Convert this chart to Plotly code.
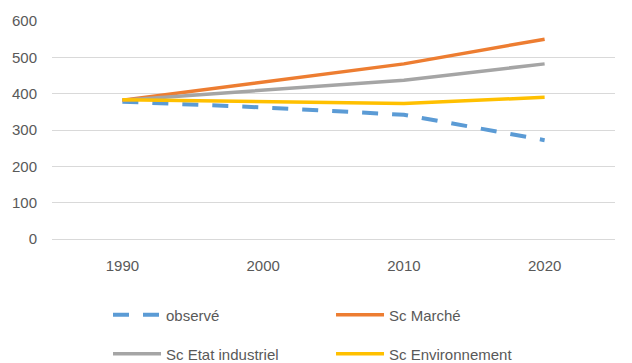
import plotly.graph_objects as go

years = ["1990", "2000", "2010", "2020"]
observe = [378, 362, 342, 272]
sc_marche = [382, 433, 482, 550]
sc_etat = [382, 410, 437, 482]
sc_env = [383, 379, 373, 390]

font_family = "Liberation Sans"
text_color = "#595959"
grid_color = "#d9d9d9"

fig = go.Figure()

fig.add_trace(go.Scatter(
    x=years, y=observe, name="observé", mode="lines",
    line=dict(color="#5B9BD5", width=4, dash="16px,14px"),
    legend="legend",
))
fig.add_trace(go.Scatter(
    x=years, y=sc_marche, name="Sc Marché", mode="lines",
    line=dict(color="#ED7D31", width=3.5),
    legend="legend",
))
fig.add_trace(go.Scatter(
    x=years, y=sc_etat, name="Sc Etat industriel", mode="lines",
    line=dict(color="#A5A5A5", width=3.5),
    legend="legend2",
))
fig.add_trace(go.Scatter(
    x=years, y=sc_env, name="Sc Environnement", mode="lines",
    line=dict(color="#FFC000", width=3.5),
    legend="legend2",
))

legend_common = dict(
    orientation="h",
    xanchor="left",
    yanchor="middle",
    x=0.0995,
    itemwidth=48,
    entrywidth=160,
    entrywidthmode="pixels",
    font=dict(family=font_family, size=15, color=text_color),
    bgcolor="rgba(0,0,0,0)",
    traceorder="normal",
)

fig.update_layout(
    width=632,
    height=363,
    margin=dict(l=52, r=17, t=21, b=124, autoexpand=False),
    paper_bgcolor="white",
    plot_bgcolor="white",
    font=dict(family=font_family, size=15, color=text_color),
    showlegend=True,
    legend=dict(legend_common, y=-0.349),
    legend2=dict(legend_common, y=-0.528),
    xaxis=dict(
        type="category",
        range=[-0.5, 3.5],
        showgrid=False,
        showline=False,
        zeroline=False,
        ticks="",
        ticklabelstandoff=16,
        tickfont=dict(family=font_family, size=15, color=text_color),
    ),
    yaxis=dict(
        range=[0, 600],
        dtick=100,
        showgrid=True,
        gridcolor=grid_color,
        gridwidth=1,
        zeroline=True,
        zerolinecolor=grid_color,
        zerolinewidth=1,
        showline=False,
        ticks="",
        ticklabelstandoff=14,
        tickfont=dict(family=font_family, size=15, color=text_color),
    ),
)

fig.write_html("out.html")
